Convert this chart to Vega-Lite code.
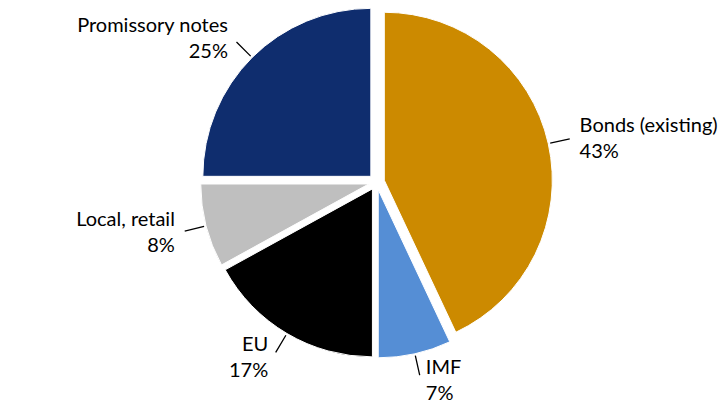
{
  "$schema": "https://vega.github.io/schema/vega-lite/v6.json",
  "width": 671,
  "height": 336,
  "autosize": {"type": "none"},
  "padding": {"left": 41, "top": 14, "right": 12, "bottom": 58},
  "background": "white",
  "config": {"view": {"stroke": null}, "text": {"font": "Lato"}},
  "data": {
    "values": [
      {"name": "Bonds (existing)", "share": 0.43, "rank": 1},
      {"name": "IMF", "share": 0.07, "rank": 2},
      {"name": "EU", "share": 0.17, "rank": 3},
      {"name": "Local, retail", "share": 0.08, "rank": 4},
      {"name": "Promissory notes", "share": 0.25, "rank": 5}
    ]
  },
  "transform": [
    {"stack": "share", "groupby": [], "sort": [{"field": "rank", "order": "ascending"}], "as": ["s0", "s1"]}
  ],
  "layer": [
    {
      "mark": {
        "type": "arc",
        "stroke": "white",
        "strokeWidth": 1,
        "xOffset": {"expr": "8*sin(PI*(datum.s0+datum.s1))"},
        "yOffset": {"expr": "-8*cos(PI*(datum.s0+datum.s1))"}
      },
      "encoding": {
        "theta": {"field": "s0", "type": "quantitative", "scale": {"domain": [0, 1]}},
        "theta2": {"field": "s1"},
        "color": {
          "field": "name",
          "type": "nominal",
          "legend": null,
          "scale": {
            "domain": ["Bonds (existing)", "IMF", "EU", "Local, retail", "Promissory notes"],
            "range": ["#CC8A00", "#558ED5", "#000000", "#BFBFBF", "#0F2D6E"]
          }
        }
      }
    },
    {
      "mark": {
        "type": "arc",
        "stroke": "black",
        "strokeWidth": 1.3,
        "fill": null,
        "theta": {"expr": "PI*(datum.s0+datum.s1)"},
        "theta2": {"expr": "PI*(datum.s0+datum.s1)"},
        "radius": 178,
        "radius2": 198
      },
      "encoding": {}
    },
    {
      "mark": {
        "type": "text",
        "fontSize": 20,
        "color": "black",
        "baseline": "middle",
        "dy": -12,
        "dx": {"expr": "datum.s0+datum.s1 < 1 ? 5 : -5"},
        "radius": 203,
        "theta": {"expr": "PI*(datum.s0+datum.s1)"},
        "align": {"expr": "datum.s0+datum.s1 < 1 ? 'left' : 'right'"}
      },
      "encoding": {"text": {"field": "name"}}
    },
    {
      "mark": {
        "type": "text",
        "fontSize": 20,
        "color": "black",
        "baseline": "middle",
        "dy": 14,
        "dx": {"expr": "datum.s0+datum.s1 < 1 ? 5 : -5"},
        "radius": 203,
        "theta": {"expr": "PI*(datum.s0+datum.s1)"},
        "align": {"expr": "datum.s0+datum.s1 < 1 ? 'left' : 'right'"}
      },
      "encoding": {"text": {"field": "share", "format": ".0%"}}
    }
  ]
}
